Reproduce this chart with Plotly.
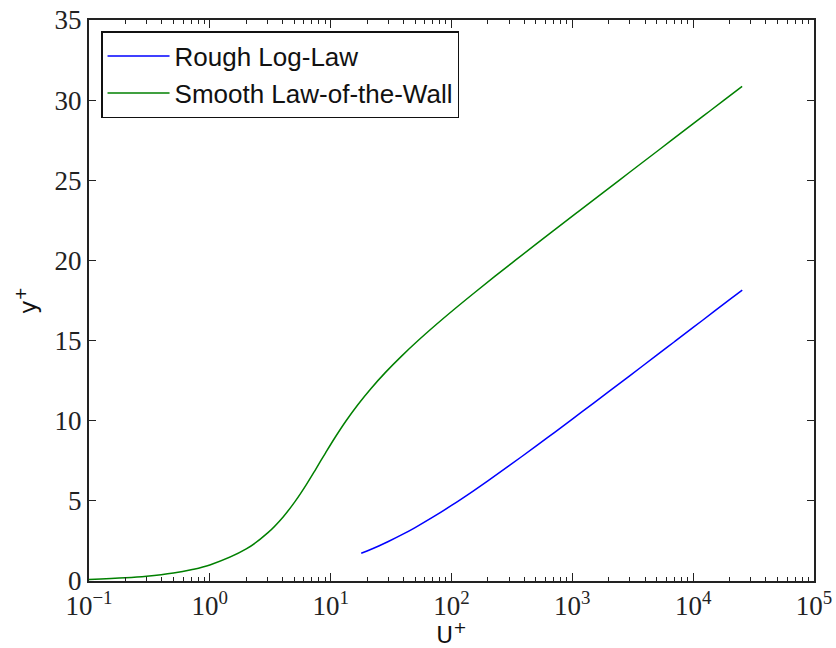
import plotly.graph_objects as go

# Smooth law-of-the-wall
smooth_y = [0.1, 0.2, 0.3, 0.5, 0.7, 1.0, 2.002, 3.012, 4.043, 5.117, 6.270, 7.561, 9.080,
            10.966, 13.427, 16.781, 21.502, 28.304, 38.252, 52.942, 74.756, 107.25, 155.74,
            228.15, 336.30, 497.85, 739.13, 1099.4, 1637.4, 2440.4, 3638.9, 5427.6, 8096.8,
            12079.7, 18022.4, 25424.0]
smooth_u = [0.1, 0.2, 0.3, 0.5, 0.7, 1.0, 2.0, 3.0, 4.0, 5.0, 6.0, 7.0, 8.0,
            9.0, 10.0, 11.0, 12.0, 13.0, 14.0, 15.0, 16.0, 17.0, 18.0,
            19.0, 20.0, 21.0, 22.0, 23.0, 24.0, 25.0, 26.0, 27.0, 28.0,
            29.0, 30.0, 30.86]

# Rough log-law
rough_y = [17.9, 20, 25, 30, 40, 50, 70, 100, 150, 200, 300, 500, 700, 1000, 1500,
           2000, 3000, 5000, 7000, 10000, 15000, 20000, 25470]
rough_u = [1.733, 1.875, 2.185, 2.461, 2.935, 3.333, 3.979, 4.713, 5.597, 6.248, 7.193,
           8.413, 9.229, 10.102, 11.101, 11.812, 12.819, 14.090, 14.928, 15.818, 16.831,
           17.549, 18.153]

x_tick_vals = [0.1, 1, 10, 100, 1000, 10000, 100000]
x_tick_text = ["10<sup>\u22121</sup>", "10<sup>0</sup>", "10<sup>1</sup>", "10<sup>2</sup>",
               "10<sup>3</sup>", "10<sup>4</sup>", "10<sup>5</sup>"]
y_tick_vals = [0, 5, 10, 15, 20, 25, 30, 35]

minor_vals = [m * d for d in [0.1, 1, 10, 100, 1000, 10000] for m in range(2, 10)]

fig = go.Figure()
fig.add_trace(go.Scatter(x=rough_y, y=rough_u, mode="lines", name="Rough Log-Law",
                         line=dict(color="#0000ff", width=1.5, shape="spline")))
fig.add_trace(go.Scatter(x=smooth_y, y=smooth_u, mode="lines", name="Smooth Law-of-the-Wall",
                         line=dict(color="#008000", width=1.5, shape="spline")))

tick_font = dict(family="Liberation Serif, DejaVu Serif, serif", size=27, color="#222")
axis_common = dict(showline=True, linecolor="#222", linewidth=2, mirror="ticks",
                   ticks="inside", tickcolor="#222", tickwidth=1, showgrid=False,
                   zeroline=False, tickfont=tick_font, automargin=False)

fig.update_layout(
    width=836, height=648,
    margin=dict(l=89, r=22, t=20, b=67),
    plot_bgcolor="white", paper_bgcolor="white",
    showlegend=True,
    legend=dict(x=0.0166, y=0.98, xanchor="left", yanchor="top",
                bordercolor="#111", borderwidth=1.5, bgcolor="white",
                font=dict(family="Liberation Sans, Arial, sans-serif", size=26, color="#111"),
                tracegroupgap=0, itemwidth=62),
    xaxis=dict(type="log", range=[-1, 5], tickmode="array", tickvals=x_tick_vals,
               ticktext=x_tick_text, ticklen=8,
               minor=dict(ticks="inside", ticklen=4, tickcolor="#222", showgrid=False,
                          tickmode="array", tickvals=minor_vals),
               title=dict(text="U<sup>+</sup>", standoff=4,
                          font=dict(family="DejaVu Sans, sans-serif", size=23, color="#111")),
               **axis_common),
    yaxis=dict(range=[0, 35], tickmode="array", tickvals=y_tick_vals, ticklen=7,
               title=dict(text="y<sup>+</sup>", standoff=12,
                          font=dict(family="DejaVu Sans, sans-serif", size=23, color="#111")),
               **axis_common),
)

fig.write_html("out.html")
